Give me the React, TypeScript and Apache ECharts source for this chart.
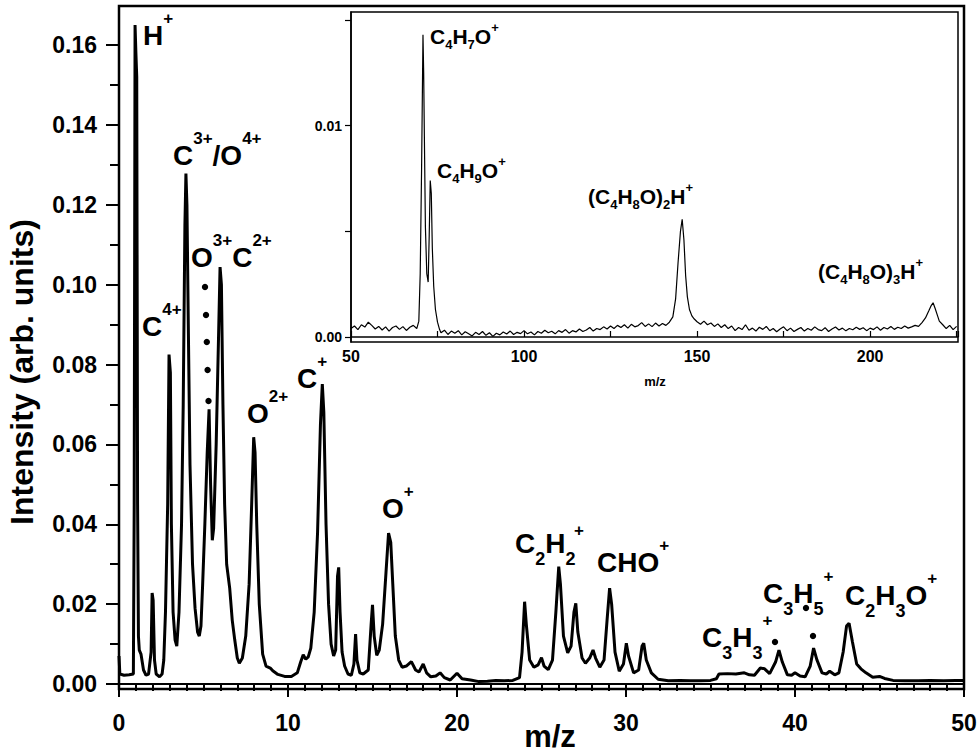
import React, { useEffect, useRef } from "react";
import * as echarts from "echarts";

// ---------- main spectrum (m/z 0-50) ----------
const mzMain = [
  0.0, 0.05, 0.3, 0.6, 0.85, 0.9, 0.95, 1.0, 1.05, 1.1, 1.15, 1.2, 1.3, 1.45, 1.6, 1.75, 1.9, 1.96, 2.02, 2.1,
  2.2, 2.4, 2.55, 2.65, 2.75, 2.88, 2.96, 3.04, 3.1, 3.2, 3.32, 3.42, 3.55, 3.7, 3.8, 3.9, 3.96, 4.02, 4.1, 4.2,
  4.35, 4.5, 4.65, 4.75, 4.85, 4.95, 5.08, 5.22, 5.33, 5.42, 5.52, 5.6, 5.75, 5.88, 5.98, 6.06, 6.15, 6.25, 6.37, 6.55,
  6.7, 6.85, 7.0, 7.12, 7.3, 7.5, 7.7, 7.85, 7.97, 8.05, 8.15, 8.3, 8.5, 8.7, 8.95, 9.1, 9.4, 9.8, 10.2, 10.55,
  10.75, 10.9, 11.05, 11.2, 11.35, 11.55, 11.75, 11.92, 12.03, 12.12, 12.25, 12.4, 12.55, 12.7, 12.82, 12.93, 13.0, 13.08, 13.2, 13.35,
  13.55, 13.75, 13.9, 14.0, 14.08, 14.25, 14.45, 14.75, 14.92, 15.0, 15.1, 15.25, 15.4, 15.6, 15.8, 15.95, 16.08, 16.2, 16.35, 16.55,
  16.75, 17.0, 17.3, 17.55, 17.75, 18.0, 18.2, 18.45, 18.75, 19.0, 19.25, 19.6, 20.0, 20.3, 20.8, 21.3, 21.8, 22.3, 22.8, 23.3,
  23.7, 23.85, 24.0, 24.1, 24.3, 24.55, 24.8, 25.0, 25.15, 25.4, 25.65, 25.85, 26.02, 26.12, 26.3, 26.55, 26.75, 26.92, 27.03, 27.15,
  27.4, 27.6, 27.85, 28.05, 28.2, 28.45, 28.7, 28.88, 29.03, 29.15, 29.35, 29.6, 29.85, 30.02, 30.15, 30.45, 30.75, 30.95, 31.05, 31.2,
  31.5, 31.9, 32.5, 33.2, 33.8, 34.4, 35.0, 35.35, 35.5, 36.0, 36.5, 37.0, 37.3, 37.6, 37.95, 38.2, 38.5, 38.85, 39.05, 39.25,
  39.55, 39.8, 40.0, 40.3, 40.6, 40.9, 41.1, 41.3, 41.6, 41.85, 42.05, 42.35, 42.6, 42.85, 43.05, 43.2, 43.4, 43.65, 43.9, 44.2,
  44.6, 45.0, 45.3, 45.8, 46.5, 47.3, 48.0, 48.8, 49.5, 50.0,
];
const intensityMain = [
  0.007, 0.0025, 0.0022, 0.0023, 0.0025, 0.045, 0.165, 0.158, 0.152, 0.045, 0.012, 0.0085, 0.0075, 0.0035, 0.0022, 0.0025, 0.008, 0.0228, 0.021, 0.006,
  0.0025, 0.0018, 0.0025, 0.006, 0.018, 0.045, 0.0825, 0.078, 0.04, 0.018, 0.011, 0.0095, 0.018, 0.04, 0.07, 0.115, 0.1278, 0.12, 0.09, 0.055,
  0.03, 0.019, 0.013, 0.012, 0.0145, 0.025, 0.04, 0.058, 0.0688, 0.05, 0.036, 0.039, 0.06, 0.085, 0.1044, 0.1, 0.07, 0.045, 0.03, 0.024,
  0.016, 0.011, 0.0065, 0.0052, 0.0065, 0.012, 0.025, 0.045, 0.0618, 0.058, 0.04, 0.02, 0.0075, 0.0045, 0.004, 0.0033, 0.0024, 0.0019, 0.0019, 0.0028,
  0.0055, 0.0073, 0.0062, 0.0068, 0.009, 0.018, 0.038, 0.065, 0.0751, 0.068, 0.04, 0.02, 0.01, 0.007, 0.0085, 0.027, 0.0292, 0.018, 0.008, 0.0045,
  0.0025, 0.0022, 0.005, 0.0125, 0.006, 0.0028, 0.0025, 0.0035, 0.015, 0.0198, 0.012, 0.0072, 0.0085, 0.015, 0.028, 0.0378, 0.0355, 0.025, 0.012, 0.006,
  0.0042, 0.0045, 0.0056, 0.0035, 0.003, 0.005, 0.0028, 0.0018, 0.002, 0.0028, 0.0016, 0.001, 0.0027, 0.0013, 0.001, 0.0006, 0.0007, 0.0009, 0.0008, 0.0009,
  0.0016, 0.008, 0.0206, 0.015, 0.006, 0.0042, 0.0048, 0.0066, 0.0045, 0.0036, 0.006, 0.018, 0.0294, 0.025, 0.012, 0.0078, 0.0095, 0.018, 0.0202, 0.013,
  0.0065, 0.0052, 0.0065, 0.0085, 0.0065, 0.0042, 0.006, 0.016, 0.024, 0.02, 0.008, 0.0032, 0.005, 0.0102, 0.007, 0.0028, 0.0035, 0.0095, 0.0102, 0.006,
  0.0028, 0.0012, 0.0008, 0.0009, 0.0008, 0.0008, 0.0009, 0.0013, 0.0025, 0.0026, 0.0025, 0.0028, 0.0023, 0.0022, 0.004, 0.0038, 0.0026, 0.0055, 0.0085, 0.0055,
  0.0023, 0.0022, 0.0028, 0.002, 0.0018, 0.0045, 0.009, 0.006, 0.0028, 0.0025, 0.0032, 0.0023, 0.0028, 0.008, 0.0145, 0.0152, 0.0105, 0.005, 0.0038, 0.0028,
  0.0017, 0.0019, 0.0014, 0.0009, 0.0008, 0.0008, 0.0009, 0.0008, 0.0009, 0.0009,
];

// ---------- inset spectrum (m/z 50-225) ----------
const mzInset = [
  50, 51, 52, 53, 54, 55, 56, 57, 58, 59, 60, 61, 62, 63, 64, 65, 66, 67, 68, 69,
  69.6, 70.0, 70.4, 70.8, 71.0, 71.2, 71.5, 71.9, 72.3, 72.6, 72.9, 73.2, 73.5, 73.9, 74.4, 75.0, 75.6,
  76, 77, 78, 79, 80, 81, 82, 83, 84, 85, 86, 87, 88, 89, 90, 91, 92, 93, 94, 95, 96, 97, 98, 99,
  100, 101, 102, 103, 104, 105, 106, 107, 108, 109, 110, 111, 112, 113, 114, 115, 116, 117, 118, 119,
  120, 121, 122, 123, 124, 125, 126, 127, 128, 129, 130, 131, 132, 133, 134, 135, 136, 137, 138, 139,
  140, 141, 142, 143, 143.8, 144.5, 145.2, 145.7, 146.2, 146.7, 147.2, 147.8, 148.5, 149.2,
  150, 151, 152, 153, 154, 155, 156, 157, 158, 159, 160, 161, 162, 163, 164, 165, 166, 167, 168, 169,
  170, 171, 172, 173, 174, 175, 176, 177, 178, 179, 180, 181, 182, 183, 184, 185, 186, 187, 188, 189,
  190, 191, 192, 193, 194, 195, 196, 197, 198, 199, 200, 201, 202, 203, 204, 205, 206, 207, 208, 209,
  210, 211, 212, 213, 214, 215, 216, 217, 217.7, 218.2, 218.8, 219.5, 220, 221, 222, 223, 224, 225,
];
const intensityInset = [
  0.0004, 0.00052, 0.00035, 0.00058, 0.00047, 0.0007, 0.00055, 0.00038, 0.0005, 0.00033, 0.00048, 0.00028, 0.00045, 0.00052, 0.00036, 0.00049, 0.00031, 0.00046, 0.00055, 0.0004,
  0.00075, 0.003, 0.008, 0.0143, 0.0125, 0.0095, 0.0052, 0.003, 0.0026, 0.0048, 0.0074, 0.0068, 0.0042, 0.0024, 0.0013, 0.0007, 0.00035,
  0.0002, 0.00032, 0.00012, 0.00028, 0.00018, 0.0003, 0.0001, 0.00025, 0.00015, 0.00005, 0.00022, 0.00012, 0.00026, 0.00008, 0.0002, 0.00003, 0.00018, 0.0001, 0.00024, 0.00014, 0.00028, 0.00012, 0.00022, 0.00016,
  0.0003, 0.00015, 0.00024, 0.0001, 0.00026, 0.00018, 0.00032, 0.0002, 0.00027, 0.00015, 0.0003, 0.00022, 0.00035, 0.00018, 0.0003, 0.00024, 0.00038, 0.00026, 0.00033, 0.00045,
  0.00028, 0.0004, 0.00035, 0.00048, 0.00038, 0.00052, 0.0004, 0.00055, 0.00045, 0.00058, 0.00042, 0.0006, 0.00048, 0.00054, 0.00068, 0.0005, 0.00062, 0.00049, 0.00066, 0.00052,
  0.00064, 0.00055, 0.0007, 0.00095, 0.0018, 0.0035, 0.005, 0.00557, 0.0046, 0.0029, 0.0019, 0.0013, 0.001, 0.00085,
  0.00072, 0.0006, 0.00075, 0.00058, 0.00066, 0.0005, 0.00062, 0.00045, 0.00058, 0.0004, 0.00052, 0.0003, 0.00045, 0.00035, 0.00058, 0.00032, 0.00042, 0.00028, 0.00046, 0.00036,
  0.0005, 0.0003, 0.0004, 0.00025, 0.00038, 0.00048, 0.0003, 0.00042, 0.00026, 0.00036, 0.00045, 0.00028, 0.0004, 0.00032, 0.00048, 0.00035, 0.0003, 0.00044, 0.00026, 0.00038,
  0.00047, 0.00033, 0.00042, 0.00029, 0.0004, 0.00034, 0.00046, 0.00036, 0.00044, 0.0003, 0.00042, 0.00035, 0.00048, 0.00032, 0.00045, 0.00038, 0.0005, 0.00036, 0.00046, 0.0004,
  0.00052, 0.00042, 0.00048, 0.00055, 0.0005, 0.00068, 0.0009, 0.00125, 0.0015, 0.00162, 0.00135, 0.001, 0.00075, 0.00058, 0.0004, 0.00055, 0.00035, 0.0005,
];

// ---------- tick values ----------
const mainYMajor = [0, 0.02, 0.04, 0.06, 0.08, 0.1, 0.12, 0.14, 0.16];
const mainYMinor = [0.01, 0.03, 0.05, 0.07, 0.09, 0.11, 0.13, 0.15];
const insetYTicks = [0, 0.005, 0.01, 0.015];
const insetYLabels = [0, 0.01];

const FONT = "'Liberation Sans', Arial, sans-serif";
const NARROW = "'Liberation Sans Narrow', 'Liberation Sans', Arial, sans-serif";

const mainRich = {
  b: { fontSize: 28, fontWeight: "bold", fontFamily: FONT, lineHeight: 50, verticalAlign: "middle", fill: "#000" },
  sp: { fontSize: 17, fontWeight: "bold", fontFamily: FONT, lineHeight: 17, verticalAlign: "top", fill: "#000" },
  sb: { fontSize: 18, fontWeight: "bold", fontFamily: FONT, lineHeight: 16, verticalAlign: "bottom", fill: "#000" },
};
const insetRich = {
  b: { fontSize: 21, fontWeight: "bold", fontFamily: NARROW, lineHeight: 30, verticalAlign: "middle", fill: "#000" },
  sp: { fontSize: 13, fontWeight: "bold", fontFamily: NARROW, lineHeight: 18, verticalAlign: "top", fill: "#000" },
  sb: { fontSize: 13, fontWeight: "bold", fontFamily: NARROW, lineHeight: 14, verticalAlign: "bottom", fill: "#000" },
};

// annotation: [text, left x, base center y]
const mainLabels: [string, number, number][] = [
  ["{b|H}{sp|+}", 143, 35],
  ["{b|C}{sp|3+}{b|/O}{sp|4+}", 173, 155],
  ["{b|O}{sp|3+}{b|C}{sp|2+}", 191, 257],
  ["{b|C}{sp|4+}", 142, 326],
  ["{b|O}{sp|2+}", 247, 413],
  ["{b|C}{sp|+}", 297, 378],
  ["{b|O}{sp|+}", 382, 508],
  ["{b|C}{sb|2}{b|H}{sb|2}", 515, 543],
  ["{b|CHO}{sp|+}", 597, 562],
  ["{b|C}{sb|3}{b|H}{sb|3}{sp|+}", 702, 637],
  ["{b|C}{sb|3}{b|H}{sb|5}{sp|+}", 763, 593],
  ["{b|C}{sb|2}{b|H}{sb|3}{b|O}{sp|+}", 845, 595],
];
const supPlus: [number, number][] = [[579, 530]];
const insetLabels: [string, number, number][] = [
  ["{b|C}{sb|4}{b|H}{sb|7}{b|O}{sp|+}", 430, 36],
  ["{b|C}{sb|4}{b|H}{sb|9}{b|O}{sp|+}", 437, 170],
  ["{b|(C}{sb|4}{b|H}{sb|8}{b|O)}{sb|2}{b|H}{sp|+}", 588, 196],
  ["{b|(C}{sb|4}{b|H}{sb|8}{b|O)}{sb|3}{b|H}{sp|+}", 818, 271],
];
const dots: [number, number][] = [
  [205, 287], [206, 315], [206.8, 342], [207.6, 370], [208.5, 401],
  [775, 642], [806, 608], [813, 636],
];

export default function App() {
  const ref = useRef<HTMLDivElement>(null);
  useEffect(() => {
    if (!ref.current) return;
    const chart = echarts.init(ref.current, null, { renderer: "svg" });
    const mainData = mzMain.map((m, i) => [m, intensityMain[i]]);
    const insetData = mzInset.map((m, i) => [m, intensityInset[i]]);

    const graphic: any[] = [];
    mainLabels.forEach(([t, x, y]) => {
      graphic.push({
        type: "text", x, y: y - 25, z: 100,
        style: { text: t, rich: mainRich, align: "left", verticalAlign: "top", fill: "#000" },
      });
    });
    supPlus.forEach(([x, y]) => {
      graphic.push({
        type: "text", x, y, z: 100,
        style: { text: "+", fontSize: 17, fontWeight: "bold", fontFamily: FONT, align: "center", verticalAlign: "middle", fill: "#000" },
      });
    });
    insetLabels.forEach(([t, x, y]) => {
      graphic.push({
        type: "text", x, y: y - 15, z: 100,
        style: { text: t, rich: insetRich, align: "left", verticalAlign: "top", fill: "#000" },
      });
    });
    dots.forEach(([x, y]) => {
      graphic.push({ type: "circle", z: 100, shape: { cx: x, cy: y, r: 3.2 }, style: { fill: "#000" } });
    });
    graphic.push({
      type: "text", x: 22, y: 372, rotation: Math.PI / 2, z: 100,
      style: { text: "Intensity (arb. units)", fontSize: 32, fontWeight: "bold", fontFamily: FONT, align: "center", verticalAlign: "middle", fill: "#000" },
    });
    graphic.push({
      type: "text", x: 550, y: 736, z: 100,
      style: { text: "m/z", fontSize: 31, fontWeight: "bold", fontFamily: FONT, align: "center", verticalAlign: "middle", fill: "#000" },
    });
    graphic.push({
      type: "text", x: 655, y: 381, z: 100,
      style: { text: "m/z", fontSize: 13, fontWeight: "bold", fontFamily: FONT, align: "center", verticalAlign: "middle", fill: "#000" },
    });

    const axisLine = { show: true, lineStyle: { color: "#000", width: 2 } };

    chart.setOption({
      animation: false,
      backgroundColor: "#fff",
      grid: [
        { left: 119, top: 6, width: 845, height: 683, show: true, borderColor: "#000", borderWidth: 2.5, backgroundColor: "transparent", containLabel: false, outerBoundsMode: "none" },
        { left: 351, top: 12, width: 607, height: 330, show: true, borderColor: "#000", borderWidth: 1.5, backgroundColor: "#fff", containLabel: false, outerBoundsMode: "none" },
      ],
      xAxis: [
        {
          type: "value", gridIndex: 0, position: "bottom", min: 0, max: 50, interval: 10,
          axisLine,
          axisTick: { show: true, inside: false, length: 13, lineStyle: { color: "#000", width: 2 } },
          minorTick: { show: true, splitNumber: 10, length: 7, lineStyle: { color: "#000", width: 2 } },
          axisLabel: { fontSize: 23, fontWeight: "bold", fontFamily: FONT, color: "#000", margin: 22 },
          splitLine: { show: false },
        },
        {
          type: "value", gridIndex: 1, position: "bottom", min: 50, max: 225.4, interval: 50,
          axisLine: { show: true, lineStyle: { color: "#000", width: 1.5 } },
          axisTick: { show: true, inside: true, length: 6, lineStyle: { color: "#000", width: 1.2 } },
          minorTick: { show: true, splitNumber: 2, length: 6, lineStyle: { color: "#000", width: 1.2 } },
          axisLabel: { fontSize: 16, fontWeight: "bold", fontFamily: FONT, color: "#000", margin: 6, showMaxLabel: false },
          splitLine: { show: false },
        },
      ],
      yAxis: [
        {
          type: "value", gridIndex: 0, position: "left", min: -0.00125, max: 0.16977,
          axisLine,
          axisTick: { show: true, inside: false, length: 13, customValues: mainYMajor, lineStyle: { color: "#000", width: 2 } },
          axisLabel: {
            fontSize: 23, fontWeight: "bold", fontFamily: FONT, color: "#000", margin: 22,
            customValues: mainYMajor, formatter: (v: number) => v.toFixed(2),
          },
          splitLine: { show: false },
        },
        {
          type: "value", gridIndex: 0, position: "left", offset: 0, min: -0.00125, max: 0.16977,
          axisLine: { show: false },
          axisTick: { show: true, inside: false, length: 9, customValues: mainYMinor, lineStyle: { color: "#000", width: 2 } },
          axisLabel: { show: false },
          splitLine: { show: false },
        },
        {
          type: "value", gridIndex: 1, position: "left", min: -0.000237, max: 0.015378,
          axisLine: { show: true, lineStyle: { color: "#000", width: 1.5 } },
          axisTick: { show: true, inside: false, length: 6, customValues: insetYTicks, lineStyle: { color: "#000", width: 1.2 } },
          axisLabel: {
            fontSize: 14, fontWeight: "bold", fontFamily: FONT, color: "#000", margin: 9,
            customValues: insetYLabels, formatter: (v: number) => v.toFixed(2),
          },
          splitLine: { show: false },
        },
      ],
      series: [
        {
          type: "line", xAxisIndex: 0, yAxisIndex: 0, data: mainData, showSymbol: false, symbol: "none",
          lineStyle: { color: "#000", width: 3 }, z: 5,
        },
        {
          type: "line", xAxisIndex: 1, yAxisIndex: 2, data: insetData, showSymbol: false, symbol: "none",
          lineStyle: { color: "#000", width: 1.2 }, z: 5,
        },
      ],
      graphic,
    });
    return () => chart.dispose();
  }, []);
  return (
    <div
      ref={ref}
      style={{ position: "fixed", left: 0, top: 0, width: 980, height: 756, background: "#fff" }}
    />
  );
}
